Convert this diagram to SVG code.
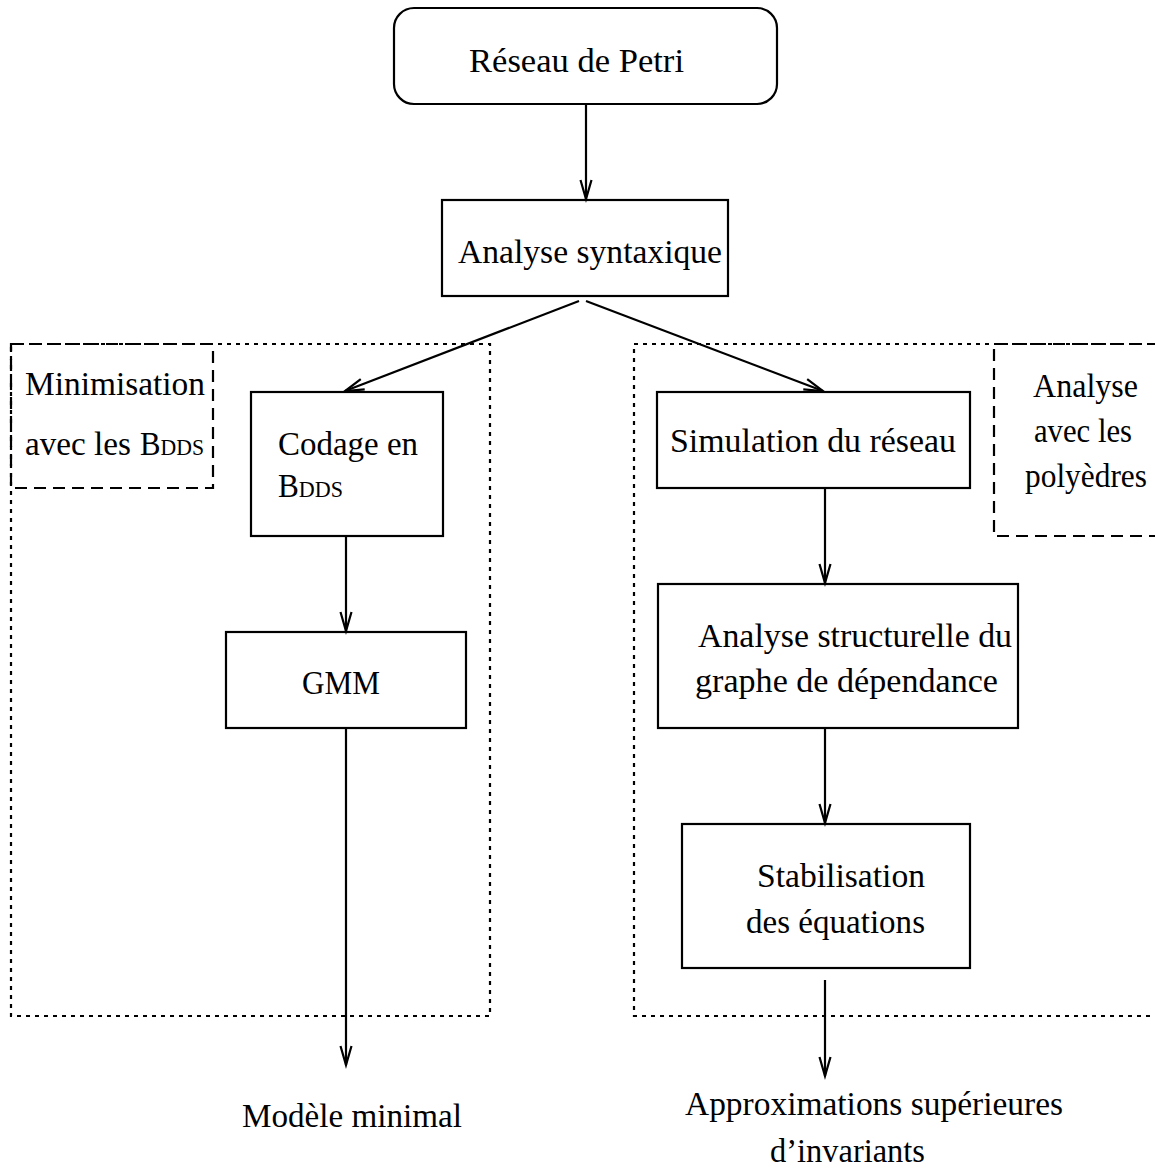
<svg xmlns="http://www.w3.org/2000/svg" width="1155" height="1169" viewBox="0 0 1155 1169">
  <style>
    .box { fill: none; stroke: #000; stroke-width: 2.2; }
    .dotted { fill: none; stroke: #000; stroke-width: 2.2; stroke-dasharray: 4 5; }
    .dashed { fill: none; stroke: #000; stroke-width: 2.2; stroke-dasharray: 12 7; }
    .edge { fill: none; stroke: #000; stroke-width: 2.2; marker-end: url(#head); }
    text { font-family: "Liberation Serif", "DejaVu Serif", serif; font-size: 34px; fill: #000; }
    .sc { font-variant: small-caps; }
  </style>
  <defs>
    <!-- open V arrowhead -->
    <marker id="head" markerUnits="userSpaceOnUse" markerWidth="24" markerHeight="16" viewBox="-20 -8 24 16" refX="0" refY="0" orient="auto">
      <path d="M-19,-5.5 L0,0 L-19,5.5" fill="none" stroke="#000" stroke-width="2.2"/>
    </marker>
  </defs>
  <rect width="1155" height="1169" fill="#fff"/>

  <!-- grouping frames -->
  <g id="frames">
    <rect class="dotted" x="11" y="344" width="479" height="672"/>
    <rect class="dashed" x="11" y="344" width="202" height="144"/>
    <path class="dotted" d="M1160,344 H634 V1016 H1160"/>
    <path class="dashed" d="M1160,344 H994 V536 H1160"/>
  </g>

  <!-- connectors -->
  <g id="connectors">
    <line class="edge" x1="586" y1="104" x2="586" y2="199"/>
    <line class="edge" x1="579" y1="301" x2="345" y2="391"/>
    <line class="edge" x1="586" y1="301" x2="823" y2="391"/>
    <line class="edge" x1="346" y1="536" x2="346" y2="631"/>
    <line class="edge" x1="346" y1="728" x2="346" y2="1065"/>
    <line class="edge" x1="825" y1="488" x2="825" y2="583"/>
    <line class="edge" x1="825" y1="728" x2="825" y2="823"/>
    <line class="edge" x1="825" y1="980" x2="825" y2="1076"/>
  </g>

  <g id="petri">
    <rect class="box" x="394" y="8" width="383" height="96" rx="20" ry="20"/>
    <text x="469" y="72" textLength="215" lengthAdjust="spacingAndGlyphs">Réseau de Petri</text>
  </g>

  <g id="syntaxe">
    <rect class="box" x="442" y="200" width="286" height="96"/>
    <text x="458" y="263" textLength="264" lengthAdjust="spacingAndGlyphs">Analyse syntaxique</text>
  </g>

  <g id="label-bdd">
    <text x="25" y="395" textLength="180" lengthAdjust="spacingAndGlyphs">Minimisation</text>
    <text x="25" y="455" textLength="106" lengthAdjust="spacingAndGlyphs">avec les</text>
    <text class="sc" x="140" y="455" textLength="64" lengthAdjust="spacingAndGlyphs">Bdds</text>
  </g>

  <g id="codage">
    <rect class="box" x="251" y="392" width="192" height="144"/>
    <text x="278" y="455" textLength="140" lengthAdjust="spacingAndGlyphs">Codage en</text>
    <text class="sc" x="278" y="497" textLength="65" lengthAdjust="spacingAndGlyphs">Bdds</text>
  </g>

  <g id="gmm">
    <rect class="box" x="226" y="632" width="240" height="96"/>
    <text x="302" y="694" textLength="78" lengthAdjust="spacingAndGlyphs">GMM</text>
  </g>

  <g id="modele">
    <text x="242" y="1127" textLength="220" lengthAdjust="spacingAndGlyphs">Modèle minimal</text>
  </g>

  <g id="label-polyedres">
    <text x="1033" y="397" textLength="105" lengthAdjust="spacingAndGlyphs">Analyse</text>
    <text x="1034" y="442" textLength="98" lengthAdjust="spacingAndGlyphs">avec les</text>
    <text x="1025" y="487" textLength="122" lengthAdjust="spacingAndGlyphs">polyèdres</text>
  </g>

  <g id="simulation">
    <rect class="box" x="657" y="392" width="313" height="96"/>
    <text x="670" y="452" textLength="286" lengthAdjust="spacingAndGlyphs">Simulation du réseau</text>
  </g>

  <g id="structure">
    <rect class="box" x="658" y="584" width="360" height="144"/>
    <text x="698" y="647" textLength="314" lengthAdjust="spacingAndGlyphs">Analyse structurelle du</text>
    <text x="695" y="692" textLength="303" lengthAdjust="spacingAndGlyphs">graphe de dépendance</text>
  </g>

  <g id="stabilisation">
    <rect class="box" x="682" y="824" width="288" height="144"/>
    <text x="757" y="887" textLength="168" lengthAdjust="spacingAndGlyphs">Stabilisation</text>
    <text x="746" y="933" textLength="179" lengthAdjust="spacingAndGlyphs">des équations</text>
  </g>

  <g id="approximations">
    <text x="685" y="1115" textLength="378" lengthAdjust="spacingAndGlyphs">Approximations supérieures</text>
    <text x="770" y="1162" textLength="155" lengthAdjust="spacingAndGlyphs">d’invariants</text>
  </g>
</svg>
